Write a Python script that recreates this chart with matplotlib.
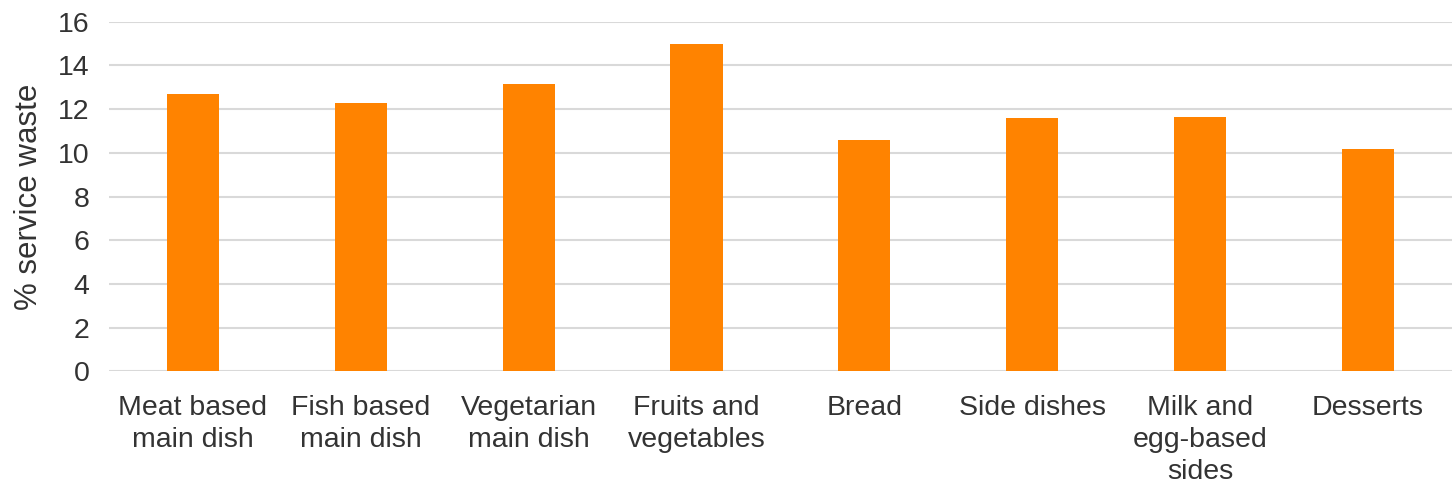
import matplotlib.pyplot as plt
import numpy as np

plt.rcParams['font.family'] = ['Liberation Sans', 'DejaVu Sans']

categories = ['Meat based\nmain dish', 'Fish based\nmain dish', 'Vegetarian\nmain dish',
              'Fruits and\nvegetables', 'Bread', 'Side dishes', 'Milk and\negg-based\nsides',
              'Desserts']
waste = [12.7, 12.28, 13.15, 15.0, 10.57, 11.6, 11.62, 10.18]

txt = '#333333'

fig = plt.figure(figsize=(14.52, 4.84), dpi=100)
ax = fig.add_axes([0.075, 0.233, 0.925, 0.722])

x = np.arange(len(categories))
ax.bar(x, waste, width=0.31, color='#FF8300', zorder=3)

ax.set_xlim(-0.5, len(categories) - 0.5)
ax.set_ylim(0, 16)
ax.set_yticks(np.arange(0, 17, 2))
ax.set_xticks(x)
ax.set_xticklabels(categories, fontsize=20.5, color=txt, linespacing=1.3)
ax.tick_params(axis='y', labelsize=20.5, labelcolor=txt, length=0, pad=14)
ax.tick_params(axis='x', length=0, pad=17)
ax.grid(axis='y', color='#d9d9d9', linewidth=1.5, zorder=0)
ax.set_axisbelow(True)
for s in ax.spines.values():
    s.set_visible(False)
ax.set_ylabel('% service waste', fontsize=22.5, color=txt, labelpad=10)

plt.savefig('out.png', dpi=100)
